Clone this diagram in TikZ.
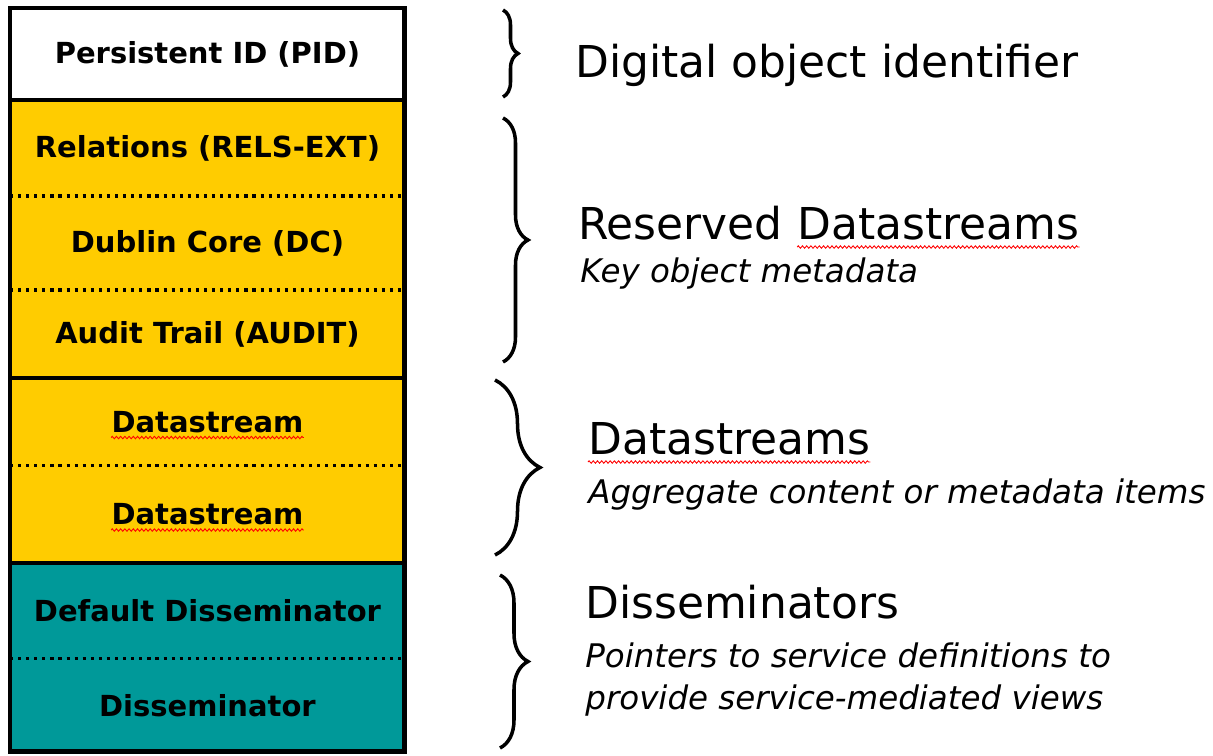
\documentclass[tikz,border=0pt]{standalone}
\usepackage{fontspec}
\setmainfont{DejaVu Sans}
\usetikzlibrary{positioning,decorations.pathreplacing,decorations.pathmorphing}

\definecolor{objyellow}{HTML}{FFCC00}
\definecolor{objteal}{HTML}{009999}

\tikzstyle {part} = [minimum width=7.9cm, inner sep=0pt, outer sep=0pt, align=center, font=\bfseries\fontsize{16.5}{19}\selectfont]
\tikzstyle {idpart} = [part, fill=white]
\tikzstyle {yellowpart} = [part, fill=objyellow]
\tikzstyle {tealpart} = [part, fill=objteal]
\tikzstyle {word} = [inner sep=0pt, font=\bfseries\fontsize{16.5}{19}\selectfont]
\tikzstyle {dotline} = [line width=1.8pt, dash pattern=on 1.8pt off 2.8pt]
\tikzstyle {divider} = [line width=2.4pt]
\tikzstyle {outline} = [line width=2.8pt]
\tikzstyle {bracket} = [line width=2pt, decorate]
\tikzstyle {spellmark} = [red, line width=0.5pt, decorate, decoration={zigzag, segment length=2.4pt, amplitude=0.7pt}]
\tikzstyle {heading} = [anchor=base west, inner sep=0pt, font=\fontsize{25}{30}\selectfont]
\tikzstyle {note} = [anchor=base west, inner sep=0pt, font=\itshape\fontsize{18.5}{22}\selectfont]

\begin{document}
\begin{tikzpicture}[x=0.02cm, y=-0.02cm]
    \useasboundingbox [fill=white] (0,0) rectangle (1213,756);

    % the object column
    \node [idpart, minimum height=1.84cm, anchor=north west] (pid) at (10,8) {Persistent ID (PID)};
    \node [yellowpart, minimum height=1.92cm, below=0pt of pid] (rels) {Relations (RELS-EXT)};
    \node [yellowpart, minimum height=1.88cm, below=0pt of rels] (dc) {Dublin Core (DC)};
    \node [yellowpart, minimum height=1.76cm, below=0pt of dc] (audit) {Audit Trail (AUDIT)};
    \node [yellowpart, minimum height=1.76cm, below=0pt of audit] (dsa) {};
    \node [yellowpart, minimum height=1.94cm, below=0pt of dsa] (dsb) {};
    \node [tealpart, minimum height=1.92cm, below=0pt of dsb] (defdiss) {Default Disseminator};
    \node [tealpart, minimum height=1.86cm, below=0pt of defdiss] (diss) {Disseminator};
    \node [word] (dsaword) at (dsa) {Datastream};
    \node [word] (dsbword) at (dsb) {Datastream};

    \draw [dotline] (rels.south west) -- (rels.south east);
    \draw [dotline] (dc.south west) -- (dc.south east);
    \draw [dotline] (dsa.south west) -- (dsa.south east);
    \draw [dotline] (defdiss.south west) -- (defdiss.south east);
    \draw [divider] (pid.south west) -- (pid.south east);
    \draw [divider] (audit.south west) -- (audit.south east);
    \draw [divider] (dsb.south west) -- (dsb.south east);
    \draw [outline] (pid.north west) rectangle (diss.south east);

    % braces
    \coordinate (idtop) at (503,10);
    \coordinate (idbot) at (503,97);
    \coordinate (restop) at (503,118);
    \coordinate (resbot) at (503,362);
    \coordinate (dstop) at (495,380);
    \coordinate (dsbot) at (495,555);
    \coordinate (distop) at (500,575);
    \coordinate (disbot) at (500,748);
    \draw [bracket, decoration={brace, amplitude=0.3cm}] (idtop) -- (idbot);
    \draw [bracket, decoration={brace, amplitude=0.5cm}] (restop) -- (resbot);
    \draw [bracket, decoration={brace, amplitude=0.9cm}] (dstop) -- (dsbot);
    \draw [bracket, decoration={brace, amplitude=0.56cm}] (distop) -- (disbot);

    % descriptions
    \node [heading] (idlabel) at (575,78) {Digital object identifier};
    \node [heading] (reslabel) at (578,240) {Reserved};
    \node [heading, right=8pt of reslabel.base east, anchor=base west] (reslabelb) {Datastreams};
    \node [note] (resnote) at (580,283) {Key object metadata};
    \node [heading] (dslabel) at (588,455) {Datastreams};
    \node [note] (dsnote) at (588,503) {Aggregate content or metadata items};
    \node [heading] (dislabel) at (585,618) {Disseminators};
    \node [note] (disnote) at (585,667) {Pointers to service definitions to};
    \node [note] (disnoteb) at (585,709) {provide service-mediated views};

    % spelling marks
    \draw [spellmark] ([yshift=-3pt]dsaword.base west) -- ([yshift=-3pt]dsaword.base east);
    \draw [spellmark] ([yshift=-3pt]dsbword.base west) -- ([yshift=-3pt]dsbword.base east);
    \draw [spellmark] ([yshift=-4pt]reslabelb.base west) -- ([yshift=-4pt]reslabelb.base east);
    \draw [spellmark] ([yshift=-4pt]dslabel.base west) -- ([yshift=-4pt]dslabel.base east);
\end{tikzpicture}
\end{document}
